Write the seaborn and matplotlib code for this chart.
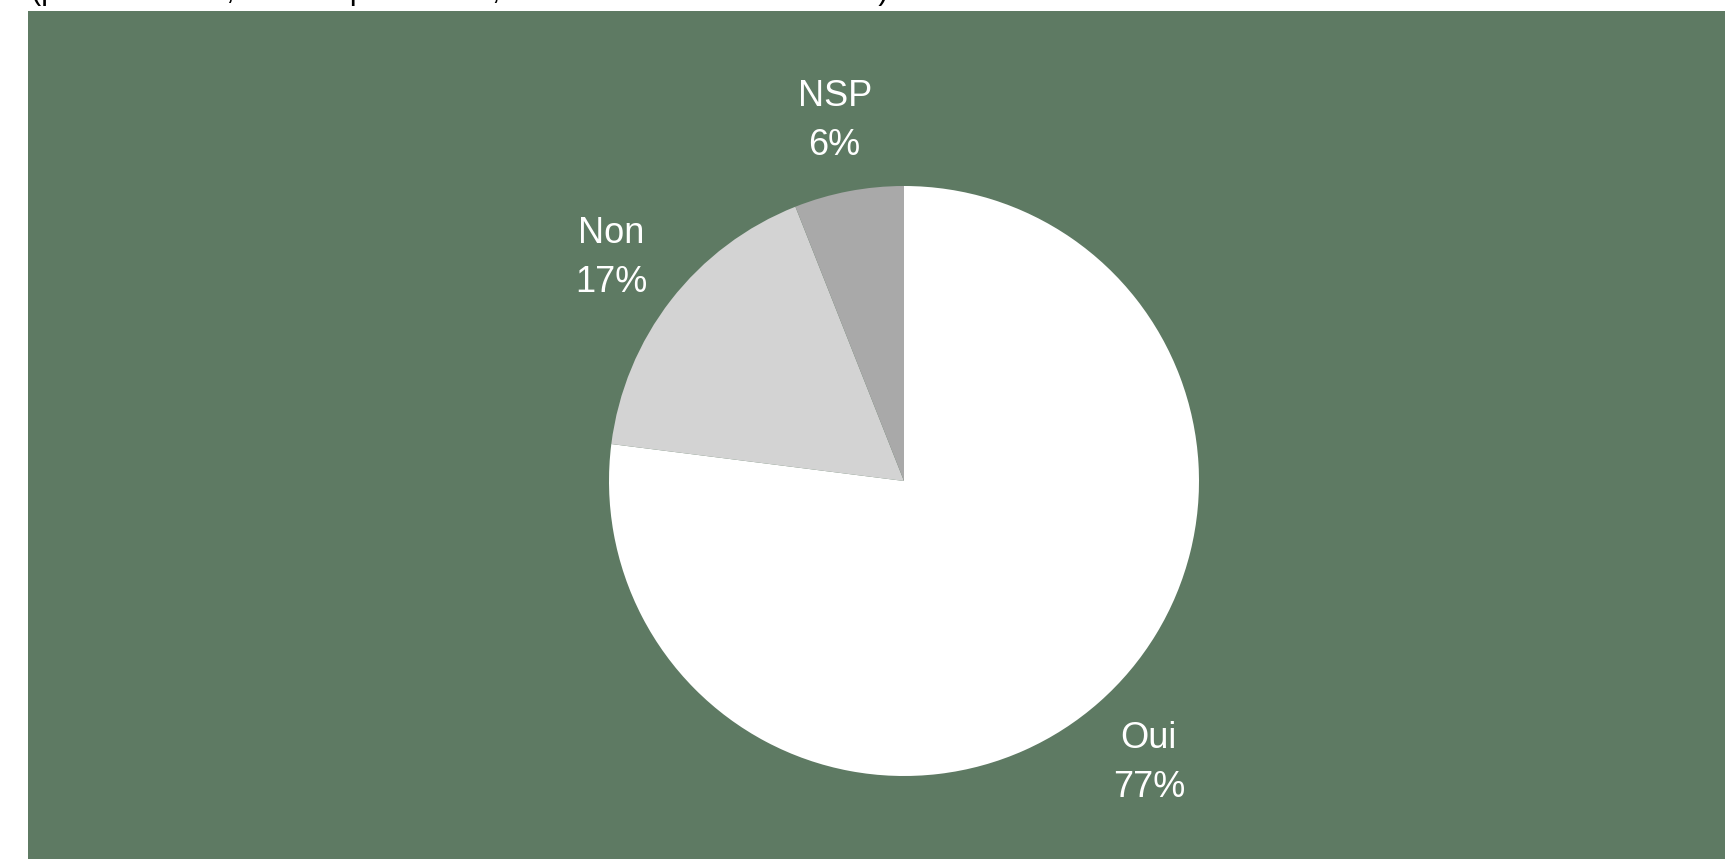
import matplotlib
matplotlib.use("Agg")
import matplotlib.pyplot as plt
import seaborn as sns

# données du camembert
labels = ["Oui", "Non", "NSP"]
values = [77, 17, 6]
colors = ["#ffffff", "#d3d3d3", "#a9a9a9"]
subtitle = "(pour 10 votes, 8 votes pour le oui, 2 votes contre ou sans avis)"

sns.set_style("white")
plt.rcParams['font.family'] = ['Liberation Sans', 'DejaVu Sans']

W, H = 1725, 859
fig = plt.figure(figsize=(W / 100, H / 100), dpi=100)
fig.patch.set_facecolor("white")

# panneau vert (coordonnées en pixels)
left, top = 28, 11
ax = fig.add_axes([left / W, 0, 1 - left / W, (H - top) / H])
ax.set_facecolor("#5e7a63")

wedges, texts = ax.pie(
    values,
    labels=[f"{l}\n{v}%" for l, v in zip(labels, values)],
    colors=colors,
    startangle=90,
    counterclock=False,
    center=(904, H - 481),
    radius=295,
    labeldistance=1.255,
    frame=True,
    textprops=dict(color="white", fontsize=26, ha="center", va="center",
                   linespacing=1.53),
    wedgeprops=dict(linewidth=0),
)
for t in texts:
    t.set_horizontalalignment("center")
    x, y = t.get_position()
    t.set_position((x, y - 4))

ax.set_xlim(left, W)
ax.set_ylim(0, H - top)
ax.set_xticks([])
ax.set_yticks([])
for s in ax.spines.values():
    s.set_visible(False)

# ligne de texte coupée en haut (seul le bas des lettres est visible)
fig.text(left / W + 0.002, 1 + 1 / H, subtitle, fontsize=22,
         color="black", va="baseline", ha="left")

fig.savefig("out.png", dpi=100, facecolor=fig.get_facecolor())
